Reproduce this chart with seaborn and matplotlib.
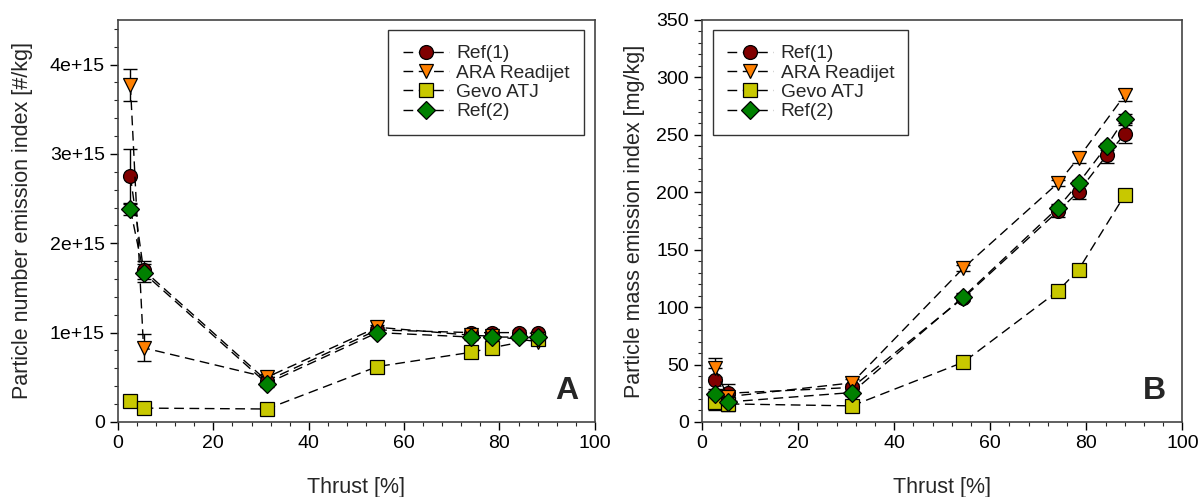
import numpy as np
import pandas as pd
import seaborn as sns
import matplotlib
matplotlib.use("Agg")
import matplotlib.pyplot as plt
from matplotlib.ticker import MultipleLocator

# thrust settings [%]
thrust_ref = [2.6, 5.35, 31.2, 54.4, 74.1, 78.4, 84.2, 88.0]
thrust_alt = [2.6, 5.35, 31.2, 54.4, 74.1, 78.4, 88.0]

# panel A: particle number EI [1e15 #/kg]
pn_ref1 = [2.75, 1.70, 0.46, 1.03, 1.00, 1.00, 1.00, 0.99]
pn_ref1_err = [0.30, 0.10, 0.04, 0.03, 0.03, 0.03, 0.03, 0.03]
pn_ara = [3.77, 0.83, 0.50, 1.06, 0.97, 0.96, 0.90]
pn_ara_err = [0.18, 0.15, 0.04, 0.03, 0.03, 0.03, 0.03]
pn_gevo = [0.24, 0.155, 0.145, 0.62, 0.78, 0.83, 0.93]
pn_gevo_err = [0.02, 0.02, 0.02, 0.02, 0.02, 0.02, 0.02]
pn_ref2 = [2.38, 1.67, 0.43, 1.00, 0.95, 0.95, 0.95, 0.95]
pn_ref2_err = [0.06, 0.10, 0.04, 0.03, 0.03, 0.03, 0.03, 0.03]

# panel B: particle mass EI [mg/kg]
pm_ref1 = [36.7, 25.0, 30.0, 108.0, 183.5, 200.5, 232.0, 250.5]
pm_ref1_err = [10, 8, 3, 3, 5, 6, 7, 8]
pm_ara = [47.4, 22.0, 34.0, 134.0, 208.0, 230.0, 284.5]
pm_ara_err = [8, 5, 3, 3, 3, 5, 5]
pm_gevo = [17.4, 15.7, 14.0, 52.0, 114.0, 132.7, 197.5]
pm_gevo_err = [7, 6, 2, 2, 2, 2, 2]
pm_ref2 = [24.0, 17.4, 25.6, 109.0, 186.5, 208.0, 240.0, 264.0]
pm_ref2_err = [5, 6, 3, 3, 3, 3, 3, 4]

names = ["Ref(1)", "ARA Readijet", "Gevo ATJ", "Ref(2)"]
colors = ["#800000", "#FF8000", "#C8C800", "#008000"]
markers = ["o", "v", "s", "D"]
sizes = [10, 10, 9.5, 9.5]

sns.set_style("ticks")
plt.rcParams['font.family'] = ['Liberation Sans', 'DejaVu Sans']
plt.rcParams['font.size'] = 14

fig = plt.figure(figsize=(11.98, 4.97), dpi=100)
axA = fig.add_axes([0.0985, 0.151, 0.398, 0.809])
axB = fig.add_axes([0.586, 0.151, 0.401, 0.809])


def draw(ax, xs, ys, errs, scale):
    for x, y, e, name, c, m, s in zip(xs, ys, errs, names, colors, markers, sizes):
        y = np.array(y) * scale
        e = np.array(e) * scale
        ax.errorbar(x, y, yerr=e, fmt="none", ecolor="black", elinewidth=1,
                    capsize=5, capthick=1, zorder=2)
        df = pd.DataFrame({"x": x, "y": y})
        sns.lineplot(data=df, x="x", y="y", ax=ax, color="black", linestyle=(0, (7, 4)),
                     linewidth=1, marker=m, markersize=s, markerfacecolor=c,
                     markeredgecolor="black", markeredgewidth=0.9, label=name, zorder=3)


xs = [thrust_ref, thrust_alt, thrust_alt, thrust_ref]
draw(axA, xs, [pn_ref1, pn_ara, pn_gevo, pn_ref2],
     [pn_ref1_err, pn_ara_err, pn_gevo_err, pn_ref2_err], 1e15)
draw(axB, xs, [pm_ref1, pm_ara, pm_gevo, pm_ref2],
     [pm_ref1_err, pm_ara_err, pm_gevo_err, pm_ref2_err], 1.0)

axA.set_xlim(0, 100)
axA.set_ylim(0, 4.5e15)
axA.set_yticks([0, 1e15, 2e15, 3e15, 4e15])
axA.set_yticklabels(["0", "1e+15", "2e+15", "3e+15", "4e+15"])
axA.yaxis.set_minor_locator(MultipleLocator(0.2e15))
axA.set_ylabel("Particle number emission index [#/kg]", fontsize=15.5, labelpad=12)

axB.set_xlim(0, 100)
axB.set_ylim(0, 350)
axB.yaxis.set_major_locator(MultipleLocator(50))
axB.yaxis.set_minor_locator(MultipleLocator(10))
axB.set_ylabel("Particle mass emission index [mg/kg]", fontsize=15.5, labelpad=8)

for ax, tag, loc in [(axA, "A", "upper right"), (axB, "B", "upper left")]:
    ax.xaxis.set_major_locator(MultipleLocator(20))
    ax.xaxis.set_minor_locator(MultipleLocator(4))
    ax.set_xlabel("Thrust [%]", fontsize=15.5, labelpad=18)
    ax.tick_params(which="major", direction="out", length=6, width=1, labelsize=14,
                   colors="black")
    ax.tick_params(which="minor", direction="out", length=3, width=0.8)
    for sp in ax.spines.values():
        sp.set_color("#444444")
        sp.set_linewidth(1.2)
    ax.text(0.965, 0.04, tag, transform=ax.transAxes, ha="right", va="bottom",
            fontsize=23, fontweight="bold")
    leg = ax.legend(loc=loc, fontsize=13.8, frameon=True, fancybox=False,
                    handlelength=2.4, labelspacing=0.1, borderpad=0.75,
                    borderaxespad=0.55, handletextpad=0.4)
    leg.get_frame().set_edgecolor("black")
    leg.get_frame().set_linewidth(1)

fig.savefig("out.png", dpi=100)
